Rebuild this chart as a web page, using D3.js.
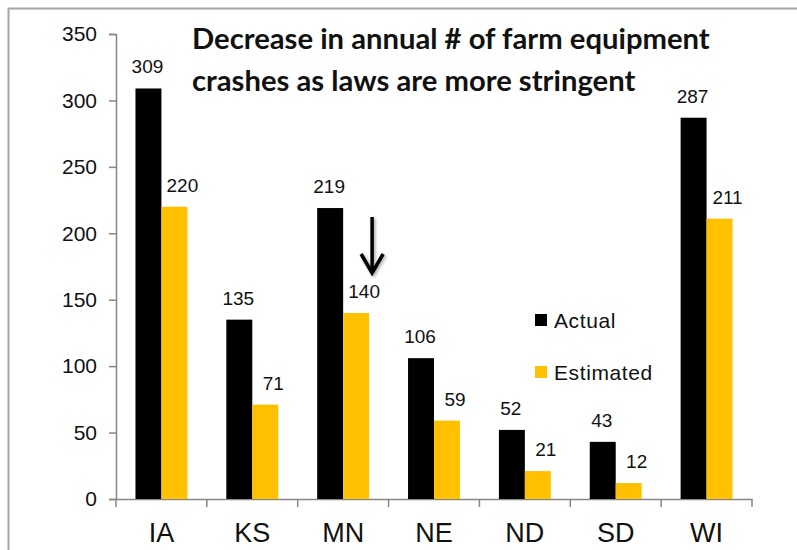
<!DOCTYPE html>
<html>
<head>
<meta charset="utf-8">
<script src="https://cdn.jsdelivr.net/npm/d3@7"></script>
<style>
  html, body { margin: 0; padding: 0; background: #fff; }
  svg { display: block; }
</style>
</head>
<body>
<div id="chart"></div>
<script>
// data
const states = ['IA', 'KS', 'MN', 'NE', 'ND', 'SD', 'WI'];
const actual = [309, 135, 219, 106, 52, 43, 287];
const estimated = [220, 71, 140, 59, 21, 12, 211];
const seriesNames = ['Actual', 'Estimated'];
const seriesColors = ['#000000', '#FFC000'];
const yTicks = [0, 50, 100, 150, 200, 250, 300, 350];
const titleLines = ['Decrease in annual # of farm equipment', 'crashes as laws are more stringent'];

const W = 797, H = 550;
const svg = d3.select('#chart').append('svg')
  .attr('width', W).attr('height', H);

// outer frame (only top and left edge visible)
svg.append('rect')
  .attr('x', 8.5).attr('y', 8.5)
  .attr('width', 900).attr('height', 900)
  .attr('fill', 'none')
  .attr('stroke', '#a6a6a6')
  .attr('stroke-width', 2);

// scales
const x = d3.scaleBand().domain(states).range([116, 752]);
const xs = d3.scaleBand().domain(seriesNames).range([0, x.bandwidth()]).paddingOuter(0.75);
const y = d3.scaleLinear().domain([0, 350]).range([499, 34]);

// y axis
const yAxis = svg.append('g')
  .attr('transform', 'translate(116,0)')
  .call(d3.axisLeft(y).tickValues(yTicks).tickSize(7).tickPadding(12));
yAxis.select('.domain').attr('stroke', '#868686').attr('stroke-width', 1.5);
yAxis.selectAll('.tick line').attr('stroke', '#868686').attr('stroke-width', 1.5);
yAxis.selectAll('.tick text')
  .attr('font-family', 'Liberation Sans, Arial, sans-serif')
  .attr('font-size', 21).attr('fill', '#111');

// x axis: baseline, boundary ticks and labels
const xAxis = svg.append('g')
  .attr('transform', 'translate(0,499)')
  .call(d3.axisBottom(x).tickSize(0).tickPadding(0));
xAxis.select('.domain').attr('stroke', '#868686').attr('stroke-width', 1.5);
xAxis.selectAll('.tick text')
  .attr('font-family', 'Liberation Sans, Arial, sans-serif')
  .attr('font-size', 27).attr('fill', '#111')
  .attr('y', 43).attr('dy', 0);
const bounds = states.map(d => x(d)).concat([x(states[states.length - 1]) + x.bandwidth()]);
xAxis.selectAll('line.bound')
  .data(bounds)
  .enter().append('line')
  .attr('class', 'bound')
  .attr('x1', d => d).attr('x2', d => d)
  .attr('y1', 0).attr('y2', 8)
  .attr('stroke', '#868686').attr('stroke-width', 1.5);

// bars
const rows = states.map((s, i) => ({ state: s, values: [actual[i], estimated[i]] }));
const groups = svg.append('g').selectAll('g')
  .data(rows)
  .enter().append('g')
  .attr('transform', d => `translate(${x(d.state)},0)`);

groups.selectAll('rect')
  .data(d => d.values.map((v, j) => ({ name: seriesNames[j], value: v, j })))
  .enter().append('rect')
  .attr('x', d => xs(d.name))
  .attr('y', d => y(d.value))
  .attr('width', xs.bandwidth())
  .attr('height', d => y(0) - y(d.value))
  .attr('fill', d => seriesColors[d.j]);

// value labels
groups.selectAll('text')
  .data(d => d.values.map((v, j) => ({ name: seriesNames[j], value: v, j })))
  .enter().append('text')
  .attr('x', d => xs(d.name) + xs.bandwidth() / 2 + (d.j === 1 ? 8 : -1))
  .attr('y', d => y(d.value) - 15)
  .attr('text-anchor', 'middle')
  .attr('font-family', 'Liberation Sans, Arial, sans-serif')
  .attr('font-size', 19)
  .attr('fill', '#111')
  .text(d => d.value);

// title
const title = svg.append('text')
  .attr('font-family', 'Lato, "Open Sans", sans-serif')
  .attr('font-weight', 'bold')
  .attr('font-size', 23)
  .attr('fill', '#111');
title.selectAll('tspan')
  .data(titleLines)
  .enter().append('tspan')
  .attr('x', 192)
  .attr('y', (d, i) => 49 + i * 42)
  .text(d => d);
// fit the first line to its width in the picture
const firstLen = title.select('tspan').node().getComputedTextLength();
title.attr('font-size', 23 * 518 / firstLen);

// legend
const legend = svg.append('g');
seriesNames.forEach((name, i) => {
  const ly = 328 + i * 52;
  legend.append('rect')
    .attr('x', 535).attr('y', ly - 14)
    .attr('width', 12).attr('height', 12)
    .attr('fill', seriesColors[i]);
  legend.append('text')
    .attr('x', 554).attr('y', ly)
    .attr('font-family', 'Liberation Sans, Arial, sans-serif')
    .attr('font-size', 21)
    .attr('letter-spacing', 0.6)
    .attr('fill', '#111')
    .text(name);
});

// arrow pointing at the MN estimate
const defs = svg.append('defs');
const f = defs.append('filter').attr('id', 'shadow')
  .attr('x', '-50%').attr('y', '-50%').attr('width', '200%').attr('height', '200%');
f.append('feDropShadow')
  .attr('dx', 1.5).attr('dy', 1.5).attr('stdDeviation', 1.5)
  .attr('flood-color', '#000').attr('flood-opacity', 0.35);

const ax = x('MN') + xs('Estimated') + xs.bandwidth() + 3;
const arrow = svg.append('g').attr('filter', 'url(#shadow)')
  .attr('stroke', '#000').attr('stroke-width', 3.5).attr('fill', 'none');
arrow.append('line')
  .attr('x1', ax).attr('x2', ax)
  .attr('y1', 217).attr('y2', 273);
arrow.append('path')
  .attr('d', `M${ax - 11},${254} L${ax},${273} L${ax + 11},${254}`)
  .attr('stroke-linejoin', 'miter');
</script>
</body>
</html>
